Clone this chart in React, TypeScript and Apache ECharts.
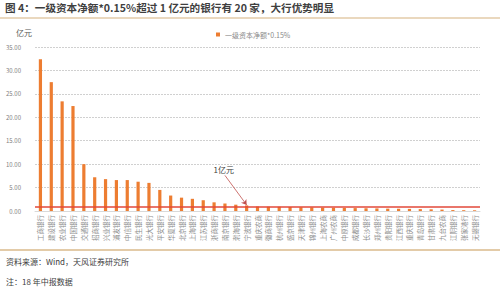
import React, { useEffect, useRef } from "react";
import * as echarts from "echarts";

const banks = [
  "工商银行", "建设银行", "农业银行", "中国银行", "交通银行", "招商银行", "兴业银行", "浦发银行",
  "中信银行", "民生银行", "光大银行", "平安银行", "华夏银行", "北京银行", "上海银行", "江苏银行",
  "浙商银行", "南京银行", "渤海银行", "宁波银行", "重庆农商", "徽商银行", "杭州银行", "盛京银行",
  "天津银行", "锦州银行", "上海农商", "广州农商", "中原银行", "成都银行", "长沙银行", "郑州银行",
  "贵阳银行", "江西银行", "重庆银行", "青岛银行", "甘肃银行", "九台农商", "江阴银行", "张家港行",
  "无锡银行",
];

const capitalValues = [
  32.4, 27.5, 23.4, 22.4, 10.0, 7.2, 6.8, 6.6,
  6.6, 6.25, 6.0, 4.5, 3.3, 2.85, 2.6, 2.3,
  1.85, 1.6, 1.35, 1.2, 0.98, 0.92, 0.9, 0.86,
  0.8, 0.78, 0.72, 0.7, 0.66, 0.62, 0.58, 0.55,
  0.5, 0.48, 0.45, 0.4, 0.36, 0.3, 0.2, 0.17,
  0.15,
];

const seriesName = "一级资本净额*0.15%";
const threshold = 1;
const thresholdLabel = "1亿元";
const yTicks = { min: 0, max: 35, interval: 5 };

const titleText = "图 4：一级资本净额*0.15%超过 1 亿元的银行有 20 家，大行优势明显";
const sourceText = "资料来源：Wind，天风证券研究所";
const noteText = "注：18 年中报数据";
const unitText = "亿元";

export default function App() {
  const ref = useRef<HTMLDivElement>(null);
  useEffect(() => {
    if (!ref.current) return;
    const chart = echarts.init(ref.current, null, { renderer: "svg" });
    const font = "'Noto Sans CJK SC', sans-serif";
    chart.setOption({
      animation: false,
      backgroundColor: "#ffffff",
      textStyle: { fontFamily: font },
      grid: { left: 35, right: 20, top: 47, bottom: 80, containLabel: false },
      legend: {
        data: [seriesName],
        top: 26,
        left: 211,
        itemWidth: 4,
        itemHeight: 4,
        itemGap: 4,
        icon: "rect",
        textStyle: { fontSize: 7, color: "#8a8a8a", fontFamily: font },
      },
      xAxis: {
        type: "category",
        data: banks,
        axisTick: { show: false },
        axisLine: { show: true, lineStyle: { color: "#d9d9d9", width: 1 } },
        axisLabel: {
          interval: 0,
          rotate: 90,
          fontSize: 6.5,
          color: "#8c8c8c",
          margin: 4,
          fontFamily: font,
        },
      },
      yAxis: {
        type: "value",
        min: yTicks.min,
        max: yTicks.max,
        interval: yTicks.interval,
        axisLine: { show: false },
        axisTick: { show: false },
        axisLabel: {
          fontSize: 6,
          color: "#7f7f7f",
          margin: 14,
          formatter: (v: number) => v.toFixed(2),
        },
        splitLine: { lineStyle: { color: "#d0d0d0", type: [2, 1], width: 1 } },
      },
      series: [
        {
          name: seriesName,
          type: "bar",
          data: capitalValues,
          barWidth: 3.2,
          itemStyle: { color: "#ED7D31" },
          markLine: {
            silent: true,
            symbol: ["none", "none"],
            label: { show: false },
            lineStyle: { color: "#E2483A", width: 1.5, type: "solid" },
            data: [{ yAxis: threshold }],
          },
        },
        {
          name: "annotation",
          type: "line",
          data: [],
          markLine: {
            silent: true,
            symbol: ["none", "arrow"],
            symbolSize: 5,
            lineStyle: { color: "#C0504D", width: 0.8, type: "solid" },
            label: {
              show: true,
              position: "start",
              formatter: thresholdLabel,
              fontSize: 8,
              color: "#404040",
              distance: 2,
            },
            data: [
              [
                { coord: [banks[17], 7.6] },
                { coord: [banks[19], 1.3] },
              ],
            ],
          },
        },
      ],
      graphic: [
        {
          type: "text",
          left: 5,
          top: 2,
          style: {
            text: titleText,
            fontSize: 10.6,
            fontWeight: "bold",
            fill: "#3f3f3f",
            fontFamily: font,
          },
        },
        {
          type: "line",
          shape: { x1: 0, y1: 18, x2: 500, y2: 18 },
          style: { stroke: "#E3CBA8", lineWidth: 1.5 },
        },
        {
          type: "text",
          left: 16,
          top: 28,
          style: { text: unitText, fontSize: 8, fill: "#595959", fontFamily: font },
        },
        {
          type: "line",
          shape: { x1: 0, y1: 250, x2: 500, y2: 250 },
          style: { stroke: "#E3CBA8", lineWidth: 2 },
        },
        {
          type: "text",
          left: 6,
          top: 257,
          style: { text: sourceText, fontSize: 8, fill: "#404040", fontFamily: font },
        },
        {
          type: "text",
          left: 6,
          top: 277,
          style: { text: noteText, fontSize: 8, fill: "#404040", fontFamily: font },
        },
      ],
    });
    return () => chart.dispose();
  }, []);
  return (
    <div
      ref={ref}
      style={{ position: "absolute", left: 0, top: 0, width: 500, height: 291 }}
    />
  );
}
